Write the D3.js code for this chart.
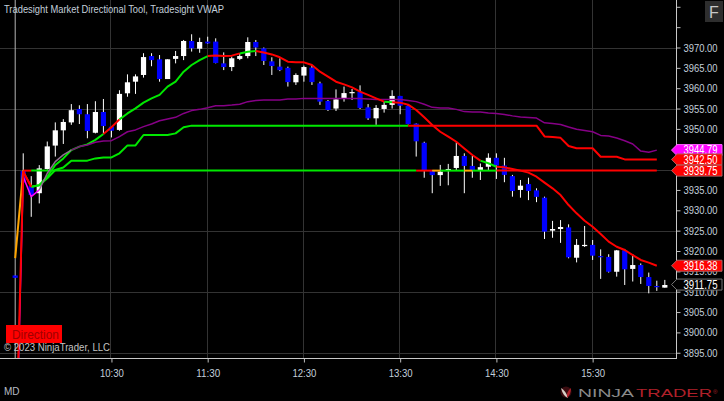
<!DOCTYPE html>
<html><head><meta charset="utf-8">
<script src="https://cdn.jsdelivr.net/npm/d3@7"></script>
<style>html,body{margin:0;padding:0;background:#000;overflow:hidden}svg{display:block}text{font-family:"Liberation Sans",Arial,sans-serif}</style>
</head><body><svg id="c" width="724" height="401"></svg>
<script>
const barOpen=[3914,3939.65,3936,3934.2,3940.15,3945.9,3949.65,3951.6,3954.9,3953.6,3949.05,3954.15,3950.55,3949.75,3958.75,3961.6,3963.25,3967.9,3967.1,3962.25,3967.2,3967.9,3971.6,3969.7,3971.45,3971.45,3966.1,3965.2,3967.2,3967.9,3971.35,3969.8,3966.6,3965.3,3965,3961.45,3963.1,3965.05,3961.2,3956.85,3955,3957.35,3958.9,3959.05,3955.3,3952.6,3954.9,3955.9,3958.1,3955.65,3951.3,3946.6,3939.75,3938.65,3939.75,3940.4,3943.35,3940.9,3939.8,3940.7,3942.9,3941,3938.4,3935,3936.45,3934.9,3933.1,3925,3925.4,3925.8,3918.35,3921.25,3921.5,3918.75,3918.55,3914.9,3920.15,3915.6,3916.55,3913.6,3911.4,3911];
const barClose=[3913.4,3936.8,3933.75,3940.3,3945.7,3949.65,3951.7,3954.6,3953.6,3949.5,3954.15,3950.7,3949.55,3958.6,3961.45,3962.9,3967.65,3966.9,3962.25,3967.1,3967.9,3971.6,3969.8,3971.35,3971,3966.2,3965.2,3967.35,3967.9,3971.35,3970,3966.7,3965.45,3964.45,3961.5,3963.25,3965.2,3961.5,3956.7,3954.65,3957.25,3958.8,3959.05,3955.15,3952.6,3955.15,3955.9,3958.1,3955.7,3951.2,3946.95,3939.9,3938.65,3939.5,3940.15,3943.35,3940.9,3939.9,3940.6,3942.9,3941,3938.7,3934.75,3936.05,3934.75,3933.3,3924.75,3925.4,3925.9,3918.45,3921.5,3921.5,3918.85,3918.55,3914.9,3920.15,3915.5,3916.55,3913.6,3911.4,3911.25,3911.65];
const barHigh=[3914,3944,3938.4,3941.1,3946.9,3951.6,3952.4,3956.1,3955.8,3956.1,3956.8,3957.35,3950.7,3959.5,3963.4,3963.4,3968.6,3968.6,3968.15,3967.1,3969.15,3971.85,3973.25,3972.4,3972.65,3972.25,3968.8,3967.75,3968.6,3972.5,3971.85,3970,3967.6,3967.35,3965.3,3963.65,3965.55,3965.7,3961.6,3957.1,3959.7,3960.4,3959.8,3960.7,3956.1,3955.85,3956.7,3959.5,3958.1,3955.9,3951.35,3946.85,3939.9,3941.15,3941.4,3946.7,3944,3943.35,3941.5,3944,3944,3942.9,3938.7,3937.45,3938,3935.4,3933.35,3927.4,3927.6,3926.55,3922.95,3926.15,3922.7,3920.4,3919.2,3920.25,3920.5,3919.25,3916.95,3914.7,3912.7,3912.9];
const barLow=[3913.4,3936.6,3928.4,3931.7,3940,3943.2,3946.3,3951,3951.2,3947.7,3948.9,3948.9,3947.9,3949.55,3957.9,3958.6,3962.6,3965.4,3961.6,3962.25,3966.1,3966.9,3969,3968.7,3970.9,3966.1,3964.45,3964.2,3966.9,3967.35,3967.9,3965.7,3963.25,3964.2,3960.4,3960.8,3961.6,3960.8,3955.9,3954.4,3954.4,3956.7,3957.1,3954.9,3952.2,3951,3954,3955,3953.6,3951.1,3943.2,3938,3934.2,3936,3936.15,3939.75,3934.2,3938,3937.45,3939.75,3937.7,3936.9,3933.35,3933.1,3932.5,3932,3922.95,3923.25,3922,3918.2,3917.2,3921,3917.8,3913.15,3914.7,3913.7,3911.65,3912.5,3911.9,3909.6,3910.2,3911];

const fastLine=[3865,3939.5,3935.8,3936.15,3938.25,3941.15,3942.75,3944.8,3945.65,3946.2,3947.3,3948.75,3950.4,3952.35,3953.8,3955.05,3956.45,3957.5,3958.35,3960.4,3961.6,3964.05,3965.7,3966.9,3967.9,3968.05,3967.9,3968,3968.55,3968.95,3969.15,3968.75,3968.3,3967.6,3966.5,3966.35,3966.35,3965.7,3964.05,3962.85,3961.6,3960.95,3960.2,3959.15,3958.35,3957.5,3956.7,3956.55,3956.45,3955.95,3954.65,3952.85,3950.95,3949.3,3948.1,3946.85,3945.2,3943.6,3942.2,3941.55,3940.7,3940.55,3940.15,3939.75,3939.25,3938.25,3936.8,3935.4,3933.75,3931.3,3929.25,3927.45,3925.95,3924.2,3922.3,3921.05,3920.25,3919,3917.8,3917.15,3916.38];
const fastStates=[[0,2,"down"],[2,11,"up"],[11,13,"down"],[13,24,"up"],[24,28,"down"],[28,30,"up"],[30,46,"down"],[46,47,"up"],[47,58,"down"],[58,60,"up"],[60,80,"down"]];

const upperLevel=[null,3939.5,3935.8,3936.15,3937.85,3939.9,3940.5,3942.2,3942.2,3942.2,3942.75,3943,3943,3944,3945.95,3945.95,3948.5,3948.5,3948.5,3948.5,3948.9,3950.4,3950.8,3950.8,3950.8,3950.8,3950.8,3950.8,3950.8,3950.8,3950.8,3950.8,3950.8,3950.8,3950.8,3950.8,3950.8,3950.8,3950.8,3950.8,3950.8,3950.8,3950.8,3950.8,3950.8,3950.8,3950.8,3950.8,3950.8,3950.8,3950.8,3950.8,3950.8,3950.8,3950.8,3950.8,3950.8,3950.8,3950.8,3950.8,3950.8,3950.8,3950.8,3950.8,3950.8,3950.8,3948.15,3948,3947.8,3945.8,3945.25,3945.25,3945.25,3943.15,3943.15,3943.15,3942.5,3942.5,3942.5,3942.5,3942.5];
const upperStates=[[1,2,"down"],[2,49,"up"],[49,80,"down"]];

const lowerLevel=[3918.25,3939.75,3939.75,3939.75,3939.75,3939.75,3939.75,3939.75,3939.75,3939.75,3939.75,3939.75,3939.75,3939.75,3939.75,3939.75,3939.75,3939.75,3939.75,3939.75,3939.75,3939.75,3939.75,3939.75,3939.75,3939.75,3939.75,3939.75,3939.75,3939.75,3939.75,3939.75,3939.75,3939.75,3939.75,3939.75,3939.75,3939.75,3939.75,3939.75,3939.75,3939.75,3939.75,3939.75,3939.75,3939.75,3939.75,3939.75,3939.75,3939.75,3939.75,3939.75,3939.75,3939.75,3939.75,3939.75,3939.75,3939.75,3939.75,3939.75,3939.75,3939.75,3939.75,3939.75,3939.75,3939.75,3939.75,3939.75,3939.75,3939.75,3939.75,3939.75,3939.75,3939.75,3939.75,3939.75,3939.75,3939.75,3939.75,3939.75,3939.75];
const lowerStates=[[0,1,"flat"],[1,2,"down"],[2,50,"up"],[50,52,"down"],[52,53,"flat"],[53,56,"up"],[56,57,"flat"],[57,60,"up"],[60,80,"down"]];

const vwapLine=[3860,3938.25,3933.35,3935,3939.1,3941.95,3943.6,3944.8,3945.65,3946.05,3946.7,3947,3947.1,3948.1,3949.3,3949.75,3950.55,3951.2,3952,3952.45,3952.85,3953.8,3954.5,3954.8,3955.2,3955.7,3955.7,3955.85,3956.05,3956.7,3956.95,3957.1,3957.1,3957.1,3957.35,3957.35,3957.5,3957.5,3957.5,3957.5,3957.5,3957.5,3957.5,3957.45,3957.35,3957.25,3957.25,3957.25,3957.25,3957,3956.7,3956.05,3955.3,3955.15,3955.15,3954.8,3954.25,3954.15,3954.15,3953.9,3953.8,3953.55,3953.2,3952.9,3952.8,3952.65,3951.5,3951.3,3951.1,3950.45,3949.9,3949.6,3949.3,3948.4,3948.25,3947.75,3947.1,3946.3,3944.55,3944.25,3944.79];
const vwapStates=[[0,3,"bright"],[3,7,"mixed"],[7,80,"dim"]];

const timeLabels=["10:30","11:30","12:30","13:30","14:30","15:30"];
const timeBars=[12,24,36,48,60,72];
const priceTicks=[3895,3900,3905,3910,3915,3920,3925,3930,3935,3940,3945,3950,3955,3960,3965,3970,3975,3980];
const priceLabels=[3895,3900,3905,3910,3915,3920,3925,3930,3935,3950,3955,3960,3965,3970];
const gridPrices=[3895,3910,3925,3940,3955,3970];
const badgeValues=[3944.79,3942.50,3939.75,3916.38,3911.75];
const badgeKinds=["vwap","level","level","fast","last"];

const W=724,H=401,plotR=676.5,plotB=358.5;
const svg=d3.select("#c");
svg.append("rect").attr("width",W).attr("height",H).attr("fill","#000");
const x=d3.scaleLinear().domain([0,81]).range([15.2,15.2+8.02*81]);
const y=d3.scaleLinear().domain([3895,3970]).range([352.75,47.5]);
const labelColor="#c3cfdb";
svg.append("defs").append("clipPath").attr("id","plot").append("rect").attr("width",plotR).attr("height",plotB);
const plot=svg.append("g").attr("clip-path","url(#plot)");

// grid
plot.selectAll(".gh").data(gridPrices).join("line").attr("x1",0).attr("x2",plotR)
  .attr("y1",d=>Math.round(y(d))+.5).attr("y2",d=>Math.round(y(d))+.5).attr("stroke","#333");
plot.selectAll(".gv").data(timeBars).join("line").attr("y1",0).attr("y2",plotB)
  .attr("x1",d=>Math.round(x(d))-.5).attr("x2",d=>Math.round(x(d))-.5).attr("stroke","#333");
plot.append("line").attr("x1",x(0)).attr("x2",x(0)).attr("y1",0).attr("y2",plotB).attr("stroke","#b5b5b5").attr("stroke-width",1);

// candles
const bars=d3.range(barOpen.length);
plot.selectAll(".wick").data(bars).join("line")
  .attr("x1",d=>x(d)).attr("x2",d=>x(d)).attr("y1",d=>y(barHigh[d])).attr("y2",d=>y(barLow[d]))
  .attr("stroke","#fff").attr("stroke-width",1);
plot.selectAll(".body").data(bars).join("rect")
  .attr("x",d=>x(d)-2.6).attr("width",5.2)
  .attr("y",d=>y(Math.max(barOpen[d],barClose[d])))
  .attr("height",d=>Math.max(1.2,Math.abs(y(barOpen[d])-y(barClose[d]))))
  .attr("fill",d=>barClose[d]>=barOpen[d]?"#fff":"#0000ff");

// indicator lines
const path=d3.line().x(d=>x(d.k)).y(d=>y(d.v)).curve(d3.curveLinear);
function drawSeries(values,states,colors,width){
  states.forEach(([a,b,s])=>{
    const pts=d3.range(a,b+1).map(k=>({k,v:values[k]}));
    plot.append("path").attr("d",path(pts)).attr("fill","none")
      .attr("stroke",colors[s]).attr("stroke-width",width).attr("stroke-linejoin","round").attr("stroke-linecap","butt");
  });
}
const dir={up:"#00e800",down:"#ff0000",flat:"#ffa500"};
drawSeries(lowerLevel,lowerStates,dir,2);
drawSeries(upperLevel,upperStates,dir,2);
drawSeries(fastLine,fastStates.filter(s=>s[2]==="up"),dir,2);
drawSeries(vwapLine,vwapStates,{bright:"#ff00ff",mixed:"#8f6f8f",dim:"#860086"},1.5);
drawSeries(fastLine,fastStates.filter(s=>s[2]==="down"),dir,2);

// axes
const axR=svg.append("g").attr("transform",`translate(${plotR},0)`)
  .call(d3.axisRight(y).tickValues(priceTicks).tickSize(4).tickPadding(3)
    .tickFormat(d=>priceLabels.includes(d)?d.toFixed(2):""));
axR.select(".domain").remove();
axR.selectAll("line").attr("stroke","#bdbdbd");
axR.selectAll("text").attr("fill",labelColor).attr("font-size",11).attr("font-family","Liberation Sans")
  .attr("textLength",d=>priceLabels.includes(d)?34:null).attr("lengthAdjust","spacingAndGlyphs");
const axB=svg.append("g").attr("transform",`translate(0,${plotB})`)
  .call(d3.axisBottom(x).tickValues(timeBars).tickSize(4).tickPadding(7)
    .tickFormat(d=>timeLabels[timeBars.indexOf(d)]));
axB.select(".domain").remove();
axB.selectAll("line").attr("stroke","#bdbdbd");
axB.selectAll("text").attr("fill",labelColor).attr("font-size",11).attr("font-family","Liberation Sans")
  .attr("textLength",24).attr("lengthAdjust","spacingAndGlyphs");
svg.append("line").attr("x1",0).attr("x2",plotR+.5).attr("y1",plotB).attr("y2",plotB).attr("stroke","#c8c8c8");
svg.append("line").attr("x1",plotR).attr("x2",plotR).attr("y1",0).attr("y2",plotB).attr("stroke","#c8c8c8");

// price badges
const badgeStyle={vwap:["#ff00ff","#ff66ff","#fff"],level:["#ff0000","#b06060","#fff"],fast:["#ff0000","#b06060","#fff"],last:["#000","#777","#fff"]};
badgeValues.forEach((v,i)=>{
  const cy=y(v),[f,s,t]=badgeStyle[badgeKinds[i]];
  const g=svg.append("g");
  g.append("path").attr("d",`M671.5,${cy} L677,${cy-5.5} L722,${cy-5.5} L722,${cy+5.5} L677,${cy+5.5} Z`)
    .attr("fill",f).attr("stroke",s).attr("stroke-width",1);
  g.append("text").attr("x",683.5).attr("y",cy+4.2).attr("fill",t).attr("font-size",12)
    .attr("textLength",34).attr("lengthAdjust","spacingAndGlyphs").text(v.toFixed(2));
});

// overlays
svg.append("text").attr("x",4).attr("y",13).attr("fill",labelColor).attr("font-size",10.5)
  .attr("textLength",220).attr("lengthAdjust","spacingAndGlyphs").text("Tradesight Market Directional Tool, Tradesight VWAP");
svg.append("rect").attr("x",6).attr("y",325).attr("width",56).attr("height",18).attr("fill","#ff0000");
svg.append("text").attr("x",12).attr("y",338.5).attr("fill","#a00000").attr("font-size",13)
  .attr("textLength",47).attr("lengthAdjust","spacingAndGlyphs").text("Direction");
svg.append("text").attr("x",4).attr("y",351).attr("fill","#c4c4c4").attr("font-size",11)
  .attr("textLength",106).attr("lengthAdjust","spacingAndGlyphs").text("© 2023 NinjaTrader, LLC");
svg.append("text").attr("x",4).attr("y",395).attr("fill","#b5bdc5").attr("font-size",10).text("MD");

// F button
svg.append("rect").attr("x",705).attr("y",1).attr("width",18).attr("height",21).attr("fill","#2e2e2e");
svg.append("text").attr("x",714).attr("y",18).attr("text-anchor","middle").attr("fill","#c8c8c8").attr("font-size",16).text("F");

// logo
const logo=svg.append("g");
logo.append("circle").attr("cx",566).attr("cy",392).attr("r",5.5).attr("fill","#3a0c10");
logo.append("path").attr("d","M561,388 Q566,391 568,398 Q563,396 561,388Z").attr("fill","#d8d0c8");
logo.append("path").attr("d","M571,388 Q571,394 567,398 Q566,392 571,388Z").attr("fill","#b0202a");
logo.append("text").attr("x",578).attr("y",397).attr("fill","#8a8a8a").attr("font-size",11.5)
  .attr("textLength",56).attr("lengthAdjust","spacingAndGlyphs").text("NINJA");
logo.append("text").attr("x",636).attr("y",397).attr("fill","#b0202a").attr("font-size",11.5)
  .attr("textLength",76).attr("lengthAdjust","spacingAndGlyphs").text("TRADER");
logo.append("text").attr("x",713).attr("y",394).attr("fill","#b0202a").attr("font-size",6).text("®");
</script></body></html>
